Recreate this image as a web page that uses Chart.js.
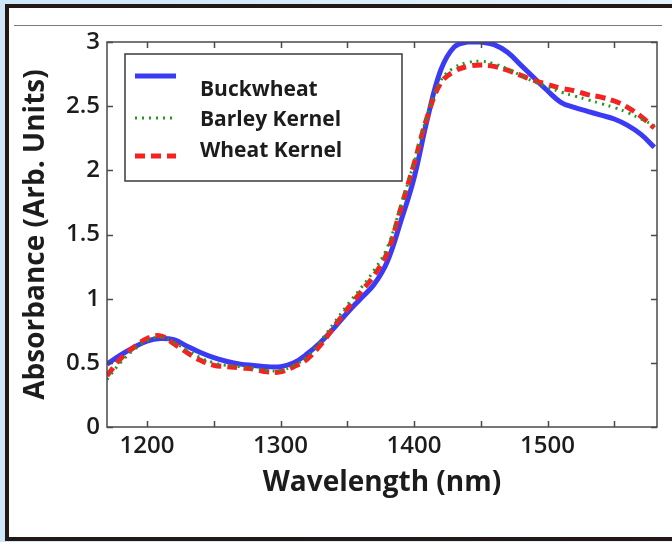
<!DOCTYPE html>
<html>
<head>
<meta charset="utf-8">
<script src="https://cdn.jsdelivr.net/npm/chart.js@4/dist/chart.umd.min.js"></script>
<style>
html, body { margin: 0; padding: 0; }
body { width: 672px; height: 542px; position: relative; overflow: hidden; background: linear-gradient(to right, #cde6f8, #e4f2fc); }
#frame { position: absolute; left: 5px; top: 4px; width: 720px; height: 537px; box-sizing: border-box; background: #fff; border: 4px solid #231815; border-right: none; }
#rule { position: absolute; left: 14px; top: 25px; width: 648px; height: 1px; background: #7a7a7a; }
#wrap { position: absolute; left: 0; top: 0; width: 672px; height: 542px; }
</style>
</head>
<body>
<div id="frame"></div>
<div id="rule"></div>
<div id="wrap"><canvas id="chart" width="672" height="542"></canvas></div>
<script>
var wavelengths = [1170, 1180, 1190, 1200, 1210, 1220, 1230, 1240, 1250, 1260, 1270, 1280, 1290, 1300,
    1310, 1320, 1330, 1340, 1350, 1360, 1370, 1380, 1390, 1400, 1410, 1420, 1430, 1440,
    1450, 1460, 1470, 1480, 1490, 1500, 1510, 1520, 1530, 1540, 1550, 1560, 1570, 1580]
var buckwheat = [0.49, 0.56, 0.62, 0.67, 0.69, 0.68, 0.63, 0.58, 0.54, 0.51, 0.49, 0.48, 0.47, 0.47,
    0.50, 0.57, 0.66, 0.77, 0.89, 1.00, 1.11, 1.29, 1.60, 1.94, 2.40, 2.78, 2.96, 3.00,
    3.00, 2.98, 2.92, 2.82, 2.72, 2.62, 2.53, 2.49, 2.46, 2.43, 2.40, 2.35, 2.28, 2.18]
var barleyKernel = [0.37, 0.50, 0.60, 0.67, 0.70, 0.66, 0.60, 0.54, 0.50, 0.48, 0.47, 0.46, 0.44, 0.44,
    0.48, 0.55, 0.67, 0.81, 0.95, 1.08, 1.22, 1.40, 1.72, 2.06, 2.43, 2.70, 2.80, 2.84,
    2.85, 2.83, 2.79, 2.74, 2.69, 2.65, 2.61, 2.58, 2.55, 2.52, 2.49, 2.45, 2.40, 2.35]
var wheatKernel = [0.40, 0.53, 0.62, 0.69, 0.71, 0.65, 0.58, 0.52, 0.48, 0.47, 0.46, 0.45, 0.43, 0.43,
    0.47, 0.53, 0.64, 0.78, 0.92, 1.05, 1.18, 1.36, 1.70, 2.05, 2.42, 2.68, 2.77, 2.81,
    2.82, 2.81, 2.78, 2.74, 2.70, 2.67, 2.64, 2.62, 2.59, 2.57, 2.54, 2.49, 2.42, 2.33]
var xTickValues = [1200, 1250, 1300, 1350, 1400, 1450, 1500, 1550]
var xTickLabels = {1200: "1200", 1300: "1300", 1400: "1400", 1500: "1500"}
var yTickValues = [0, 0.5, 1, 1.5, 2, 2.5, 3]
var yTickLabels = ["0", "0.5", "1", "1.5", "2", "2.5", "3"]

function toPoints(values){
    return values.map(function(v, i){ return {x: wavelengths[i], y: v} })
}

var textColor = '#1c1c1c'
var axisFont = {family: 'Open Sans', weight: '600', size: 24}
var titleFont = {family: 'Open Sans', weight: '700', size: 28}

// box round the plot with inward ticks on all four sides
var boxTicks = {
    id: 'boxTicks',
    afterDatasetsDraw: function(chart){
        var ctx = chart.ctx
        var a = chart.chartArea
        var xs = chart.scales.x, ys = chart.scales.y
        ctx.save()
        ctx.strokeStyle = '#4a4a4a'
        ctx.lineWidth = 1.5
        ctx.strokeRect(a.left, a.top, a.right - a.left, a.bottom - a.top)
        ctx.beginPath()
        xs.ticks.forEach(function(t){
            var px = Math.round(xs.getPixelForValue(t.value)) + 0.5
            ctx.moveTo(px, a.bottom); ctx.lineTo(px, a.bottom - 6)
            ctx.moveTo(px, a.top); ctx.lineTo(px, a.top + 6)
        })
        ys.ticks.forEach(function(t){
            var py = Math.round(ys.getPixelForValue(t.value)) + 0.5
            ctx.moveTo(a.left, py); ctx.lineTo(a.left + 6, py)
            ctx.moveTo(a.right, py); ctx.lineTo(a.right - 6, py)
        })
        ctx.stroke()
        ctx.restore()
    }
}

// legend box inside the plot, in the same place as the original
var boxLegend = {
    id: 'boxLegend',
    afterDraw: function(chart){
        var ctx = chart.ctx
        var rows = [
            {ds: chart.data.datasets[0], lineY: 76, textY: 90},
            {ds: chart.data.datasets[1], lineY: 118, textY: 120},
            {ds: chart.data.datasets[2], lineY: 156, textY: 151}
        ]
        ctx.save()
        ctx.fillStyle = '#fff'
        ctx.fillRect(125, 54, 277, 127)
        ctx.strokeStyle = '#3a3a3a'
        ctx.lineWidth = 1.5
        ctx.strokeRect(125, 54, 277, 127)
        rows.forEach(function(r){
            ctx.beginPath()
            ctx.strokeStyle = r.ds.borderColor
            ctx.lineWidth = r.ds.legendWidth
            ctx.setLineDash(r.ds.borderDash || [])
            ctx.moveTo(135, r.lineY)
            ctx.lineTo(176, r.lineY)
            ctx.stroke()
            ctx.setLineDash([])
            ctx.fillStyle = textColor
            ctx.font = '700 21px "Open Sans"'
            ctx.textBaseline = 'middle'
            ctx.fillText(r.ds.label, 200, r.textY)
        })
        ctx.restore()
    }
}

new Chart(document.getElementById('chart'), {
    type: 'line',
    data: {
        datasets: [
            {label: 'Buckwheat', data: toPoints(buckwheat), borderColor: '#3b3bf6', borderWidth: 5, legendWidth: 5, order: 2},
            {label: 'Barley Kernel', data: toPoints(barleyKernel), borderColor: '#1f9a1f', borderWidth: 3, borderDash: [2, 5], legendWidth: 3, order: 0},
            {label: 'Wheat Kernel', data: toPoints(wheatKernel), borderColor: '#f42222', borderWidth: 5, borderDash: [10, 6], legendWidth: 5, order: 1}
        ]
    },
    options: {
        responsive: false,
        animation: false,
        devicePixelRatio: 1,
        layout: {padding: {left: 0, top: 42, right: 15, bottom: 0}},
        elements: {point: {radius: 0}, line: {tension: 0.4, fill: false}},
        plugins: {legend: {display: false}, tooltip: {enabled: false}},
        scales: {
            x: {
                type: 'linear', min: 1170, max: 1582,
                afterBuildTicks: function(s){ s.ticks = xTickValues.map(function(v){ return {value: v} }) },
                afterFit: function(s){ s.height = 115 },
                grid: {display: false, drawTicks: false},
                border: {display: false},
                ticks: {autoSkip: false, maxRotation: 0, padding: 5, color: textColor, font: axisFont,
                    callback: function(v){ return xTickLabels[v] || '' }},
                title: {display: true, text: 'Wavelength (nm)', color: textColor, font: titleFont, padding: {bottom: 42}}
            },
            y: {
                min: 0, max: 3,
                afterBuildTicks: function(s){ s.ticks = yTickValues.map(function(v){ return {value: v} }) },
                afterFit: function(s){ s.width = 107 },
                grid: {display: false, drawTicks: false},
                border: {display: false},
                ticks: {padding: 7, color: textColor, font: axisFont,
                    callback: function(v, i){ return yTickLabels[i] }},
                title: {display: true, text: 'Absorbance (Arb. Units)', color: textColor, font: titleFont, padding: {top: 19}}
            }
        }
    },
    plugins: [boxTicks, boxLegend]
})
</script>
</body>
</html>
